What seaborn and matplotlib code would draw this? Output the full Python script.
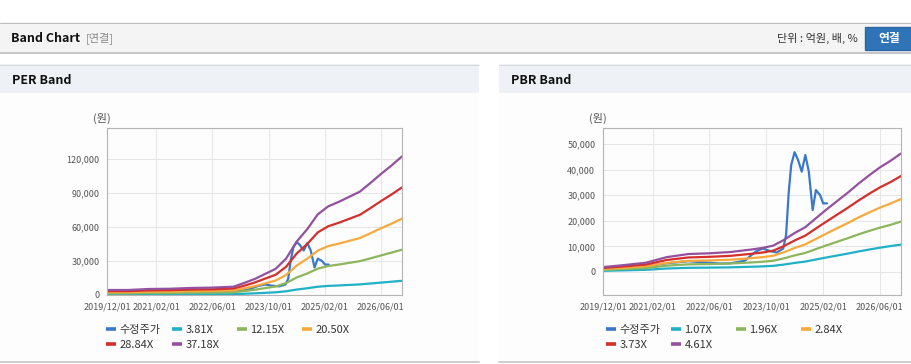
import matplotlib
matplotlib.use("Agg")
import matplotlib.pyplot as plt
from matplotlib.lines import Line2D
from matplotlib.patches import Rectangle
from matplotlib.ticker import FuncFormatter
import pandas as pd
import seaborn as sns

W, H = 912, 364

# ---------------------------------------------------------------------------
# Data
# ---------------------------------------------------------------------------
PRICE_LABEL = "수정주가"

PRICE_DATES = [
    "2019-12-01", "2020-06-01", "2020-12-01", "2021-06-01", "2021-12-01",
    "2022-06-01", "2022-09-01", "2022-12-01", "2023-04-01", "2023-07-01",
    "2023-09-01", "2023-11-01", "2024-01-01", "2024-02-25", "2024-03-20",
    "2024-04-12", "2024-05-03", "2024-06-01", "2024-07-01", "2024-08-01",
    "2024-09-01", "2024-10-01", "2024-11-03", "2024-12-01", "2025-01-06",
    "2025-02-01", "2025-03-06",
]
PRICE = [
    1500, 1800, 2300, 3400, 4200,
    3600, 3300, 3400, 4400, 7900,
    9200, 8200, 7600, 9200, 14500,
    31400, 41800, 46800, 43700, 39200,
    45700, 39200, 24200, 32000, 30000,
    26800, 26800,
]

BAND_DATES = [
    "2019-12-01", "2020-06-01", "2020-12-01", "2021-06-01", "2021-12-01",
    "2022-06-01", "2022-12-01", "2023-03-01", "2023-06-01", "2023-09-01",
    "2023-12-01", "2024-03-01", "2024-06-01", "2024-09-01", "2024-12-01",
    "2025-03-01", "2025-06-01", "2025-09-01", "2025-12-01", "2026-03-01",
    "2026-06-01", "2026-09-01", "2026-12-01",
]

PER_LABELS = ["3.81X", "12.15X", "20.50X", "28.84X", "37.18X"]
PER_3_81 = [450, 450, 540, 560, 640, 670, 750, 1080, 1440, 1900, 2360, 3280,
            4820, 5950, 7280, 8000, 8400, 8870, 9330, 10100, 10900, 11700, 12500]
PER_12_15 = [1440, 1440, 1730, 1800, 2030, 2130, 2390, 3430, 4580, 6050, 7520,
             10500, 15400, 19000, 23200, 25500, 26800, 28300, 29800, 32200,
             34800, 37300, 39900]
PER_20_50 = [2400, 2400, 2900, 3000, 3400, 3600, 4000, 5800, 7700, 10200, 12700,
             17600, 25900, 32000, 39100, 43000, 45200, 47700, 50100, 54300,
             58700, 62800, 67200]
PER_28_84 = [3400, 3400, 4100, 4300, 4800, 5000, 5700, 8100, 10900, 14400, 17800,
             24800, 36500, 45000, 55100, 60500, 63600, 67100, 70600, 76400,
             82600, 88500, 94700]
PER_37_18 = [4400, 4400, 5300, 5500, 6200, 6500, 7300, 10500, 14000, 18500, 23000,
             32000, 47000, 58000, 71000, 78000, 82000, 86500, 91000, 98500,
             106500, 114000, 122000]

PBR_LABELS = ["1.07X", "1.96X", "2.84X", "3.73X", "4.61X"]
PBR_1_07 = [440, 630, 840, 1350, 1620, 1690, 1810, 1930, 2040, 2180, 2390, 2900,
            3530, 4060, 4870, 5660, 6430, 7190, 8000, 8750, 9470, 10100, 10700]
PBR_1_96 = [810, 1150, 1530, 2470, 2980, 3100, 3320, 3530, 3740, 4000, 4380, 5310,
            6460, 7440, 8930, 10400, 11800, 13200, 14700, 16000, 17300, 18400, 19700]
PBR_2_84 = [1170, 1660, 2220, 3570, 4310, 4500, 4800, 5110, 5420, 5790, 6340, 7700,
            9360, 10800, 12900, 15000, 17100, 19100, 21300, 23200, 25100, 26700, 28500]
PBR_3_73 = [1540, 2180, 2910, 4690, 5660, 5910, 6310, 6710, 7120, 7600, 8330,
            10100, 12300, 14200, 17000, 19700, 22400, 25100, 27900, 30500, 33000,
            35100, 37500]
PBR_4_61 = [1900, 2700, 3600, 5800, 7000, 7300, 7800, 8300, 8800, 9400, 10300,
            12500, 15200, 17500, 21000, 24400, 27700, 31000, 34500, 37700, 40800,
            43400, 46300]

X_TICKS = ["2019-12-01", "2021-02-01", "2022-06-01", "2023-10-01", "2025-02-01", "2026-06-01"]
X_RANGE = ["2019-12-01", "2026-12-01"]
PER_YTICKS = [0, 30000, 60000, 90000, 120000]
PBR_YTICKS = [0, 10000, 20000, 30000, 40000, 50000]

COLORS = ["#3a78c9", "#21b1c6", "#8db55b", "#f7a93c", "#d42f2b", "#93519e"]

# ---------------------------------------------------------------------------
# Style
# ---------------------------------------------------------------------------
sns.set_style("white")
plt.rcParams["font.family"] = ["Noto Sans CJK KR", "DejaVu Sans"]
plt.rcParams["axes.unicode_minus"] = False

GRID = "#e6e6e6"
SPINE = "#b4b4b4"
TXT = "#555555"


def px(v):
    """pixels -> points at dpi 100"""
    return v * 0.72


def long_df(bands, labels):
    rows = [pd.DataFrame({"date": pd.to_datetime(PRICE_DATES), "value": PRICE,
                          "series": PRICE_LABEL})]
    for vals, lab in zip(bands, labels):
        rows.append(pd.DataFrame({"date": pd.to_datetime(BAND_DATES), "value": vals,
                                  "series": lab}))
    return pd.concat(rows, ignore_index=True)


def draw_chart(fig, box, df, labels, ylim, yticks):
    x0, y0, x1, y1 = box
    ax = fig.add_axes([x0 / W, 1 - y1 / H, (x1 - x0) / W, (y1 - y0) / H])
    order = [PRICE_LABEL] + labels
    sns.lineplot(data=df, x="date", y="value", hue="series", hue_order=order,
                 palette=COLORS, linewidth=1.6, legend=False, ax=ax)
    ax.set_facecolor("#fdfdfd")
    ax.set_xlim(pd.to_datetime(X_RANGE[0]), pd.to_datetime(X_RANGE[1]))
    ax.set_ylim(*ylim)
    ax.set_xticks(pd.to_datetime(X_TICKS))
    ax.set_xticklabels([pd.Timestamp(d).strftime("%Y/%m/%d") for d in X_TICKS])
    ax.set_yticks(yticks)
    ax.yaxis.set_major_formatter(FuncFormatter(lambda v, p: f"{int(v):,}"))
    ax.set_xlabel("")
    ax.set_ylabel("")
    ax.grid(True, color=GRID, linewidth=0.7)
    ax.set_axisbelow(True)
    for s in ax.spines.values():
        s.set_color(SPINE)
        s.set_linewidth(0.8)
    ax.tick_params(axis="both", length=3, width=0.7, color=SPINE, labelcolor=TXT,
                   labelsize=6.5, pad=2.5)
    return ax


def add_legend(fig, labels, x_cols, y_top):
    names = [PRICE_LABEL] + labels
    handles = [Line2D([], [], color=c, linewidth=2.6, solid_capstyle="butt") for c in COLORS]
    for col, xc in enumerate(x_cols):
        idx = [i for i in (col, col + 4) if i < len(names)]
        fig.legend([handles[i] for i in idx], [names[i] for i in idx],
                   loc="upper left", bbox_to_anchor=(xc / W, 1 - y_top / H),
                   bbox_transform=fig.transFigure, frameon=False, fontsize=8,
                   handlelength=0.9, handletextpad=0.3, labelspacing=0.45,
                   borderpad=0, borderaxespad=0, labelcolor="#333333")


fig = plt.figure(figsize=(W / 100, H / 100), dpi=100)
fig.patch.set_facecolor("white")

# page chrome drawn in pixel coordinates
bg = fig.add_axes([0, 0, 1, 1], zorder=-5)
bg.set_xlim(0, W)
bg.set_ylim(H, 0)
bg.axis("off")

bg.add_patch(Rectangle((0, 22), W, 31, facecolor="#f4f4f4", edgecolor="none"))
bg.plot([0, W], [22.5, 22.5], color="#bcbcbc", linewidth=px(1))
bg.plot([0, W], [53, 53], color="#c6c6c6", linewidth=px(2))
bg.text(11, 38, "Band Chart", fontsize=9, fontweight="bold", va="center", color="#111111")
bg.text(86, 38, "[연결]", fontsize=8, va="center", color="#8a8a8a")
bg.text(858, 38, "단위 : 억원, 배, %", fontsize=8, va="center", ha="right", color="#333333")
bg.add_patch(Rectangle((865, 27), 50, 23, facecolor="#3074b8", edgecolor="#2a66a3"))
bg.text(889, 38.5, "연결", fontsize=8.5, fontweight="bold", va="center", ha="center", color="white")

for (px0, px1), title in zip([(0, 479), (499, W)], ["PER Band", "PBR Band"]):
    bg.add_patch(Rectangle((px0, 64), px1 - px0, 29, facecolor="#eef2f7", edgecolor="none"))
    bg.plot([px0, px1], [64.5, 64.5], color="#d8d8d8", linewidth=px(1))
    bg.add_patch(Rectangle((px0, 93), px1 - px0, 268, facecolor="#fdfdfd", edgecolor="none"))
    bg.plot([px0, px1], [362, 362], color="#cfcfcf", linewidth=px(2))
    bg.text(px0 + 12, 80, title, fontsize=9, fontweight="bold", va="center", color="#111111")

bg.text(102, 118, "(원)", fontsize=8, ha="center", va="center", color=TXT)
bg.text(598, 118, "(원)", fontsize=8, ha="center", va="center", color=TXT)

per_df = long_df([PER_3_81, PER_12_15, PER_20_50, PER_28_84, PER_37_18], PER_LABELS)
pbr_df = long_df([PBR_1_07, PBR_1_96, PBR_2_84, PBR_3_73, PBR_4_61], PBR_LABELS)

draw_chart(fig, (107, 128, 402, 295), per_df, PER_LABELS, (0, 147000), PER_YTICKS)
draw_chart(fig, (603, 128, 901, 295), pbr_df, PBR_LABELS, (-9000, 56250), PBR_YTICKS)

add_legend(fig, PER_LABELS, [106, 172, 237, 302], 325)
add_legend(fig, PBR_LABELS, [606, 671, 736, 801], 325)

fig.savefig("out.png", dpi=100, facecolor=fig.get_facecolor())
